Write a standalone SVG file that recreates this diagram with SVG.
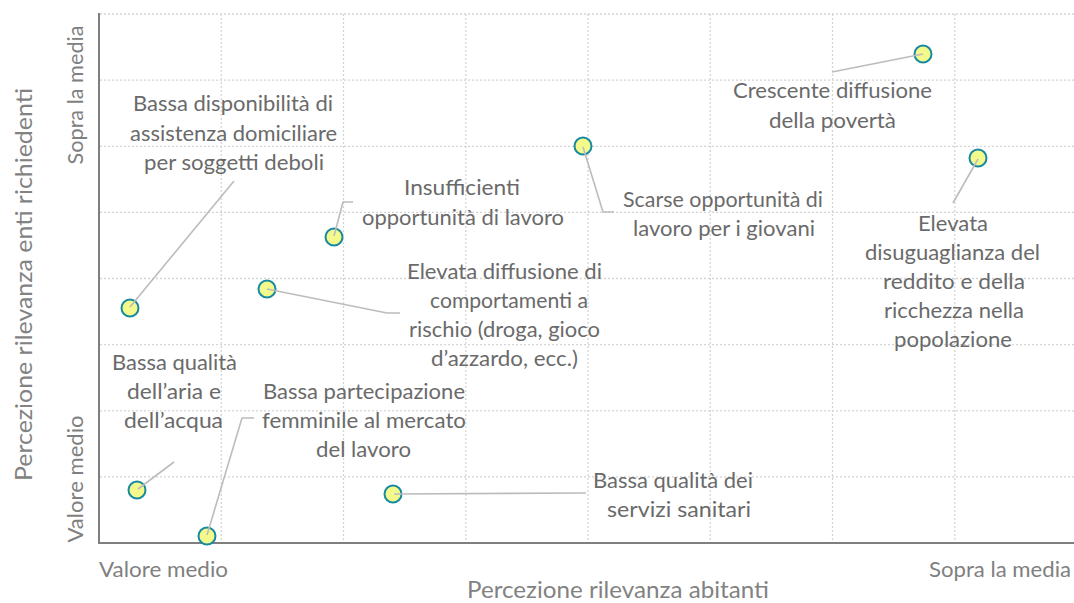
<svg xmlns="http://www.w3.org/2000/svg" width="1074" height="603" viewBox="0 0 1074 603">
<style>
.grid{stroke:#d4d4d4;stroke-width:1.3;stroke-dasharray:2 2;fill:none}
.axis{stroke:#7f7f7f;stroke-width:2;fill:none}
.lead{stroke:#bcbcbc;stroke-width:1.6;fill:none}
.mk{fill:#f4f98b;stroke:#178aa2;stroke-width:2}
.lbl{font-family:Lato,"Liberation Sans",sans-serif;font-size:21.5px;fill:#6a6a6a}
.ax{font-family:Lato,"Liberation Sans",sans-serif;font-size:21.5px;fill:#808080}
.ttl{font-family:Lato,"Liberation Sans",sans-serif;font-size:23.5px;fill:#828282}
</style>
<rect width="1074" height="603" fill="#ffffff"/>
<g id="grid">
<path class="grid" d="M100 14H1074M100 80.1H1074M100 146.3H1074M100 212.4H1074M100 278.5H1074M100 344.6H1074M100 410.8H1074M100 476.9H1074"/>
<path class="grid" d="M221.3 14V542M343.5 14V542M465.8 14V542M588 14V542M710.3 14V542M832.5 14V542M954.8 14V542"/>
</g>
<g id="axes">
<path class="axis" d="M99 13V543H1074"/>
<text class="ax" x="99" y="577" textLength="129" lengthAdjust="spacingAndGlyphs">Valore medio</text>
<text class="ax" x="929" y="577" textLength="142" lengthAdjust="spacingAndGlyphs">Sopra la media</text>
<text class="ax" transform="rotate(-90 83 479)" x="83" y="479" text-anchor="middle" textLength="127" lengthAdjust="spacingAndGlyphs">Valore medio</text>
<text class="ax" transform="rotate(-90 83 95)" x="83" y="95" text-anchor="middle" textLength="139" lengthAdjust="spacingAndGlyphs">Sopra la media</text>
<text class="ttl" x="467" y="598" textLength="302" lengthAdjust="spacingAndGlyphs">Percezione rilevanza abitanti</text>
<text class="ttl" transform="rotate(-90 32 284.5)" x="32" y="284.5" text-anchor="middle" textLength="393" lengthAdjust="spacingAndGlyphs">Percezione rilevanza enti richiedenti</text>
</g>
<g id="n-poverta">
<circle class="mk" cx="923" cy="54" r="8.5"/>
<text class="lbl" x="733" y="98" textLength="199" lengthAdjust="spacingAndGlyphs">Crescente diffusione</text>
<text class="lbl" x="769" y="128" textLength="127" lengthAdjust="spacingAndGlyphs">della povertà</text>
</g>
<g id="n-disuguaglianza">
<circle class="mk" cx="978" cy="158" r="8.5"/>
<text class="lbl" x="918" y="230.5" textLength="70" lengthAdjust="spacingAndGlyphs">Elevata</text>
<text class="lbl" x="865" y="260" textLength="175" lengthAdjust="spacingAndGlyphs">disuguaglianza del</text>
<text class="lbl" x="883" y="289" textLength="142" lengthAdjust="spacingAndGlyphs">reddito e della</text>
<text class="lbl" x="884" y="318" textLength="140" lengthAdjust="spacingAndGlyphs">ricchezza nella</text>
<text class="lbl" x="894" y="347" textLength="118" lengthAdjust="spacingAndGlyphs">popolazione</text>
</g>
<g id="n-giovani">
<circle class="mk" cx="583" cy="146" r="8.5"/>
<text class="lbl" x="623" y="207" textLength="200" lengthAdjust="spacingAndGlyphs">Scarse opportunità di</text>
<text class="lbl" x="633" y="236" textLength="182" lengthAdjust="spacingAndGlyphs">lavoro per i giovani</text>
</g>
<g id="n-lavoro">
<circle class="mk" cx="334" cy="237" r="8.5"/>
<text class="lbl" x="404" y="195" textLength="116" lengthAdjust="spacingAndGlyphs">Insufficienti</text>
<text class="lbl" x="362" y="225" textLength="202" lengthAdjust="spacingAndGlyphs">opportunità di lavoro</text>
</g>
<g id="n-rischio">
<circle class="mk" cx="267" cy="289" r="8.5"/>
<text class="lbl" x="407" y="279" textLength="195" lengthAdjust="spacingAndGlyphs">Elevata diffusione di</text>
<text class="lbl" x="430" y="308" textLength="158" lengthAdjust="spacingAndGlyphs">comportamenti a</text>
<text class="lbl" x="409" y="337" textLength="191" lengthAdjust="spacingAndGlyphs">rischio (droga, gioco</text>
<text class="lbl" x="431" y="366" textLength="147" lengthAdjust="spacingAndGlyphs">d’azzardo, ecc.)</text>
</g>
<g id="n-domiciliare">
<circle class="mk" cx="130" cy="308" r="8.5"/>
<text class="lbl" x="133" y="111" textLength="200" lengthAdjust="spacingAndGlyphs">Bassa disponibilità di</text>
<text class="lbl" x="130" y="141" textLength="207" lengthAdjust="spacingAndGlyphs">assistenza domiciliare</text>
<text class="lbl" x="144" y="170" textLength="180" lengthAdjust="spacingAndGlyphs">per soggetti deboli</text>
</g>
<g id="n-aria">
<circle class="mk" cx="137" cy="490" r="8.5"/>
<text class="lbl" x="112" y="370" textLength="125" lengthAdjust="spacingAndGlyphs">Bassa qualità</text>
<text class="lbl" x="127" y="399" textLength="94" lengthAdjust="spacingAndGlyphs">dell’aria e</text>
<text class="lbl" x="124" y="428" textLength="99" lengthAdjust="spacingAndGlyphs">dell’acqua</text>
</g>
<g id="n-femminile">
<circle class="mk" cx="207" cy="536" r="8.5"/>
<text class="lbl" x="263" y="399" textLength="202" lengthAdjust="spacingAndGlyphs">Bassa partecipazione</text>
<text class="lbl" x="262" y="428" textLength="204" lengthAdjust="spacingAndGlyphs">femminile al mercato</text>
<text class="lbl" x="316" y="457" textLength="95" lengthAdjust="spacingAndGlyphs">del lavoro</text>
</g>
<g id="n-sanitari">
<circle class="mk" cx="393" cy="494" r="8.5"/>
<text class="lbl" x="593" y="488" textLength="160" lengthAdjust="spacingAndGlyphs">Bassa qualità dei</text>
<text class="lbl" x="607" y="517" textLength="144" lengthAdjust="spacingAndGlyphs">servizi sanitari</text>
</g>
<g id="connectors">
<polyline class="lead" points="832,72 923,54"/>
<polyline class="lead" points="978,159 953,203"/>
<polyline class="lead" points="583,147 603,212 614,212"/>
<polyline class="lead" points="334,236 343,202 353,202"/>
<polyline class="lead" points="267,289 387,313 400,313"/>
<polyline class="lead" points="130,307 234,181"/>
<polyline class="lead" points="138,489 174,462"/>
<polyline class="lead" points="207,535 242,418 254,418"/>
<polyline class="lead" points="394,494 586,493"/>
</g>
</svg>
